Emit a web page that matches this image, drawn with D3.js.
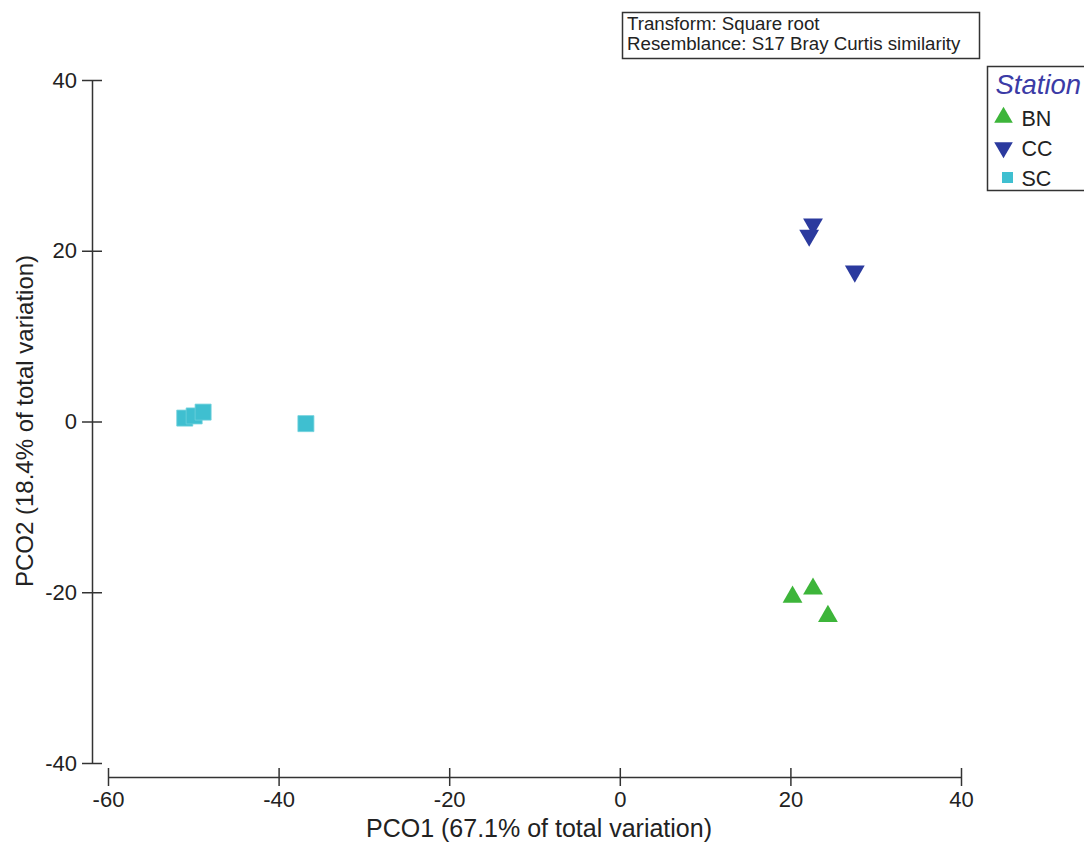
<!DOCTYPE html>
<html>
<head>
<meta charset="utf-8">
<script src="https://cdn.jsdelivr.net/npm/d3@7"></script>
<style>
	body { margin: 0; background: #fff; }
	#chart-area { width: 1084px; height: 843px; }
	text { font-family: "Liberation Sans", Arial, sans-serif; fill: #222; }
</style>
</head>
<body>
<div id="chart-area"></div>
<script>

// PCO scores: [PCO1, PCO2]
let stationBN = [[20.25, -20.55], [22.65, -19.6], [24.4, -22.8]];
let stationCC = [[22.65, 23.1], [22.2, 21.8], [27.55, 17.6]];
let stationSC = [[-51.0, 0.4], [-49.9, 0.65], [-48.85, 1.1], [-36.8, -0.25]];

let stationNames = ["BN", "CC", "SC"];
let stationColors = ["#3db53a", "#2b3a9e", "#3fbfd0"];

let xTicks = [-60, -40, -20, 0, 20, 40];
let yTicks = [-40, -20, 0, 20, 40];

let xTitle = "PCO1 (67.1% of total variation)";
let yTitle = "PCO2 (18.4% of total variation)";
let noteLines = ["Transform: Square root", "Resemblance: S17 Bray Curtis similarity"];
let legendTitle = "Station";


class PcoPlot {

	constructor(parentElement) {
		this.parentElement = parentElement;
		this.initVis();
	}

	initVis() {
		let vis = this;

		vis.svg = d3.select("#" + vis.parentElement).append("svg")
			.attr("width", 1084)
			.attr("height", 843);

		// plotting region (x axis and y axis are drawn offset, PRIMER style)
		vis.x = d3.scaleLinear()
			.domain([-60, 40])
			.range([108, 961]);

		vis.y = d3.scaleLinear()
			.domain([-40, 40])
			.range([763, 80]);

		vis.shapes = {
			BN: d3.symbol().type(d3.symbolTriangle).size(170),
			CC: d3.symbol().type(d3.symbolTriangle).size(170),
			SC: d3.symbol().type(d3.symbolSquare).size(256)
		};

		vis.drawAxes();
		vis.drawPoints();
		vis.drawNote();
		vis.drawLegend();
	}

	drawAxes() {
		let vis = this;

		// plain hyphen for negatives, like the original
		let fmt = d => String(d);

		let xAxis = d3.axisBottom(vis.x)
			.tickValues(xTicks)
			.tickFormat(fmt)
			.tickSize(9)
			.tickSizeOuter(0)
			.tickPadding(5);

		let yAxis = d3.axisLeft(vis.y)
			.tickValues(yTicks)
			.tickFormat(fmt)
			.tickSize(10)
			.tickSizeOuter(0)
			.tickPadding(5);

		let gx = vis.svg.append("g")
			.attr("class", "x-axis axis")
			.attr("transform", "translate(0,777)")
			.call(xAxis);

		let gy = vis.svg.append("g")
			.attr("class", "y-axis axis")
			.attr("transform", "translate(92,0)")
			.call(yAxis);

		// ticks cross the axis line
		gx.selectAll(".tick line").attr("y1", -9);
		gy.selectAll(".tick line").attr("x1", 10);

		vis.svg.selectAll(".axis path, .axis line")
			.attr("stroke", "#333")
			.attr("stroke-width", 1.5);

		vis.svg.selectAll(".axis text")
			.attr("font-size", 22)
			.attr("font-family", "Liberation Sans, Arial, sans-serif")
			.attr("fill", "#222");

		vis.svg.append("text")
			.attr("x", 539)
			.attr("y", 837)
			.attr("text-anchor", "middle")
			.attr("font-size", 25)
			.text(xTitle);

		vis.svg.append("text")
			.attr("transform", "translate(33,421) rotate(-90)")
			.attr("text-anchor", "middle")
			.attr("font-size", 24)
			.text(yTitle);
	}

	drawPoints() {
		let vis = this;
		let groups = [stationBN, stationCC, stationSC];

		groups.forEach(function(pts, i) {
			let name = stationNames[i];
			vis.svg.append("g")
				.attr("class", "station-" + name)
				.selectAll("path")
				.data(pts)
				.enter()
				.append("path")
				.attr("d", vis.shapes[name]())
				.attr("transform", d => "translate(" + vis.x(d[0]) + "," + vis.y(d[1]) + ")" + (name === "CC" ? " rotate(180)" : ""))
				.attr("fill", stationColors[i])
				.attr("stroke", name === "SC" ? "#6fd0dc" : "none")
				.attr("stroke-width", 0.8);
		});
	}

	drawNote() {
		let vis = this;

		vis.svg.append("rect")
			.attr("x", 622.5)
			.attr("y", 12.5)
			.attr("width", 357)
			.attr("height", 46)
			.attr("fill", "none")
			.attr("stroke", "#333")
			.attr("stroke-width", 1.5);

		vis.svg.selectAll(".note")
			.data(noteLines)
			.enter()
			.append("text")
			.attr("class", "note")
			.attr("x", 627)
			.attr("y", (d, i) => 30 + i * 20)
			.attr("font-size", 18.7)
			.text(d => d);
	}

	drawLegend() {
		let vis = this;

		let lg = vis.svg.append("g")
			.attr("class", "legend")
			.attr("transform", "translate(987.5,66.5)");

		lg.append("rect")
			.attr("width", 130)
			.attr("height", 124)
			.attr("fill", "none")
			.attr("stroke", "#333")
			.attr("stroke-width", 1.5);

		lg.append("text")
			.attr("x", 8)
			.attr("y", 27)
			.attr("font-size", 27.5)
			.attr("font-style", "italic")
			.style("fill", "#3b3ba6")
			.text(legendTitle);

		let legendShapes = {
			BN: d3.symbol().type(d3.symbolTriangle).size(150),
			CC: d3.symbol().type(d3.symbolTriangle).size(150),
			SC: d3.symbol().type(d3.symbolSquare).size(121)
		};
		let markX = [16, 16, 20];

		let rows = lg.selectAll(".legend-row")
			.data(stationNames)
			.enter()
			.append("g")
			.attr("class", "legend-row")
			.attr("transform", (d, i) => "translate(0," + (51 + i * 30) + ")");

		rows.append("path")
			.attr("d", d => legendShapes[d]())
			.attr("transform", (d, i) => "translate(" + markX[i] + ",0)" + (d === "CC" ? " rotate(180)" : ""))
			.attr("fill", (d, i) => stationColors[i]);

		rows.append("text")
			.attr("x", 34)
			.attr("y", 8)
			.attr("font-size", 21.5)
			.text(d => d);
	}
}

new PcoPlot("chart-area");

</script>
</body>
</html>
